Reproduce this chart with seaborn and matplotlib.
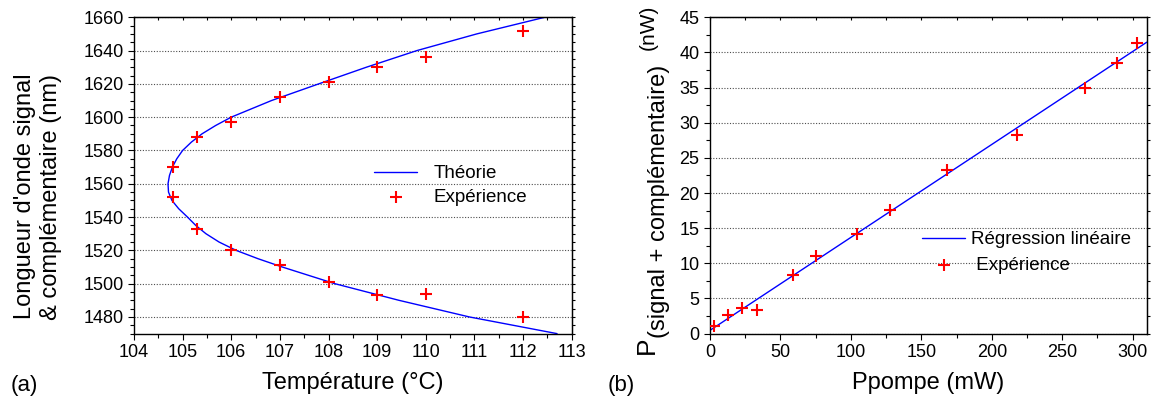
import matplotlib
matplotlib.use('Agg')
import matplotlib.pyplot as plt
import seaborn as sns
from matplotlib.ticker import MultipleLocator

# (a) accord en température
temp_exp = [104.8, 104.8, 105.3, 105.3, 106, 106, 107, 107, 108, 108,
            109, 109, 110, 110, 112, 112]
lam_exp = [1570, 1552, 1588, 1533, 1597, 1520, 1612, 1511, 1621, 1501,
           1630, 1493, 1636, 1494, 1652, 1480]

lam_theory = [1660, 1650, 1640, 1630, 1620, 1610, 1600, 1595, 1590, 1585,
              1580, 1575, 1570, 1565, 1560, 1555, 1550, 1545, 1540, 1535,
              1530, 1525, 1520, 1515, 1510, 1500, 1490, 1480, 1470]
temp_theory = [112.45, 111.05, 109.82, 108.78, 107.8, 106.83, 106.0, 105.68,
               105.4, 105.18, 105.0, 104.88, 104.79, 104.73, 104.70, 104.71,
               104.78, 104.92, 105.1, 105.27, 105.48, 105.75, 106.1, 106.55,
               107.05, 108.13, 109.45, 110.9, 112.7]

# (b) puissance en fonction de la pompe
pump_exp = [3, 13, 23, 33, 59, 75, 104, 128, 168, 218, 266, 289, 303]
power_exp = [1.1, 2.6, 3.6, 3.4, 8.4, 11.0, 14.1, 17.6, 23.3, 28.3, 35.0, 38.5, 41.3]
pump_fit = [0, 310]
power_fit = [0.47, 41.45]

sns.set_style('ticks')
plt.rcParams['font.family'] = ['Liberation Sans', 'DejaVu Sans']
plt.rcParams['text.color'] = 'black'
plt.rcParams['axes.labelcolor'] = 'black'


def style_axes(ax, xmaj, xmin, ymaj, ymin):
    """Origin-like box: outward ticks left/bottom, small mirrored ticks."""
    ax.xaxis.set_major_locator(MultipleLocator(xmaj))
    ax.xaxis.set_minor_locator(MultipleLocator(xmin))
    ax.yaxis.set_major_locator(MultipleLocator(ymaj))
    ax.yaxis.set_minor_locator(MultipleLocator(ymin))
    ax.tick_params(which='major', direction='out', length=4.5, width=0.8,
                   labelsize=13, pad=3, colors='black')
    ax.tick_params(which='minor', direction='out', length=3, width=0.8,
                   colors='black')
    ax.grid(axis='y', which='major', linestyle=(0, (1, 1.5)),
            color='0.3', linewidth=0.8)
    for s in ax.spines.values():
        s.set_color('black')
        s.set_linewidth(1.0)
    top = ax.secondary_xaxis('top')
    top.xaxis.set_major_locator(MultipleLocator(xmaj))
    top.xaxis.set_minor_locator(MultipleLocator(xmin))
    top.tick_params(which='both', direction='in', length=2, width=0.8,
                    colors='black', labeltop=False, labelbottom=False)
    right = ax.secondary_yaxis('right')
    right.yaxis.set_major_locator(MultipleLocator(ymaj))
    right.yaxis.set_minor_locator(MultipleLocator(ymin))
    right.tick_params(which='both', direction='out', length=2, width=0.8,
                      colors='black', labelright=False, labelleft=False)


fig = plt.figure(figsize=(11.53, 4.01), dpi=100)
ax_a = fig.add_axes([0.1162, 0.168, 0.3796, 0.789])
ax_b = fig.add_axes([0.6158, 0.168, 0.3788, 0.789])

# --- panel (a)
sns.lineplot(x=temp_theory, y=lam_theory, sort=False, estimator=None,
             color='blue', linewidth=1.0, ax=ax_a, label='Théorie')
sns.scatterplot(x=temp_exp, y=lam_exp, marker='+', s=72, linewidth=1.5,
                color='red', ax=ax_a, label='Expérience', zorder=3)
ax_a.set_xlim(104, 113)
ax_a.set_ylim(1470, 1660)
style_axes(ax_a, 1, 0.5, 20, 5)
ax_a.set_xlabel('Température (°C)', fontsize=17, labelpad=8)
ax_a.set_ylabel("Longueur d'onde signal\n& complémentaire (nm)",
                fontsize=17, linespacing=1.2)
ax_a.yaxis.set_label_coords(-0.165, 0.433)
ax_a.legend(frameon=False, loc='upper left', bbox_to_anchor=(0.5495, 0.532),
            borderpad=0, borderaxespad=0, handlelength=2.27,
            handletextpad=0.9, labelspacing=0.36, fontsize=13.5)

# --- panel (b)
sns.lineplot(x=pump_fit, y=power_fit, color='blue', linewidth=1.0,
             ax=ax_b, label='Régression linéaire')
sns.scatterplot(x=pump_exp, y=power_exp, marker='+', s=72, linewidth=1.5,
                color='red', ax=ax_b, label=' Expérience', zorder=3)
ax_b.set_xlim(0, 310)
ax_b.set_ylim(0, 45)
style_axes(ax_b, 50, 25, 5, 2.5)
ax_b.set_xlabel('Ppompe (mW)', fontsize=17, labelpad=8)
ax_b.set_ylabel('')
ax_b.legend(frameon=False, loc='upper left', bbox_to_anchor=(0.4855, 0.324),
            borderpad=0, borderaxespad=0, handlelength=2.3,
            handletextpad=0.3, labelspacing=0.47, fontsize=13.5)

# y label of (b): big P, shifted subscript, then unit
txt_kw = dict(rotation=90, rotation_mode='anchor', ha='left', va='baseline')
fig.text(653.5 / 1153, 1 - 354 / 401, 'P', fontsize=19, **txt_kw)
fig.text(665 / 1153, 1 - 338 / 401, '(signal + complémentaire)', fontsize=17, **txt_kw)
fig.text(653.5 / 1153, 1 - 50 / 401, '(nW)', fontsize=15, **txt_kw)

fig.text(11 / 1153, 1 - 385 / 401, '(a)', fontsize=16, va='center', ha='left')
fig.text(608 / 1153, 1 - 385 / 401, '(b)', fontsize=16, va='center', ha='left')

fig.savefig('out.png', dpi=100)
